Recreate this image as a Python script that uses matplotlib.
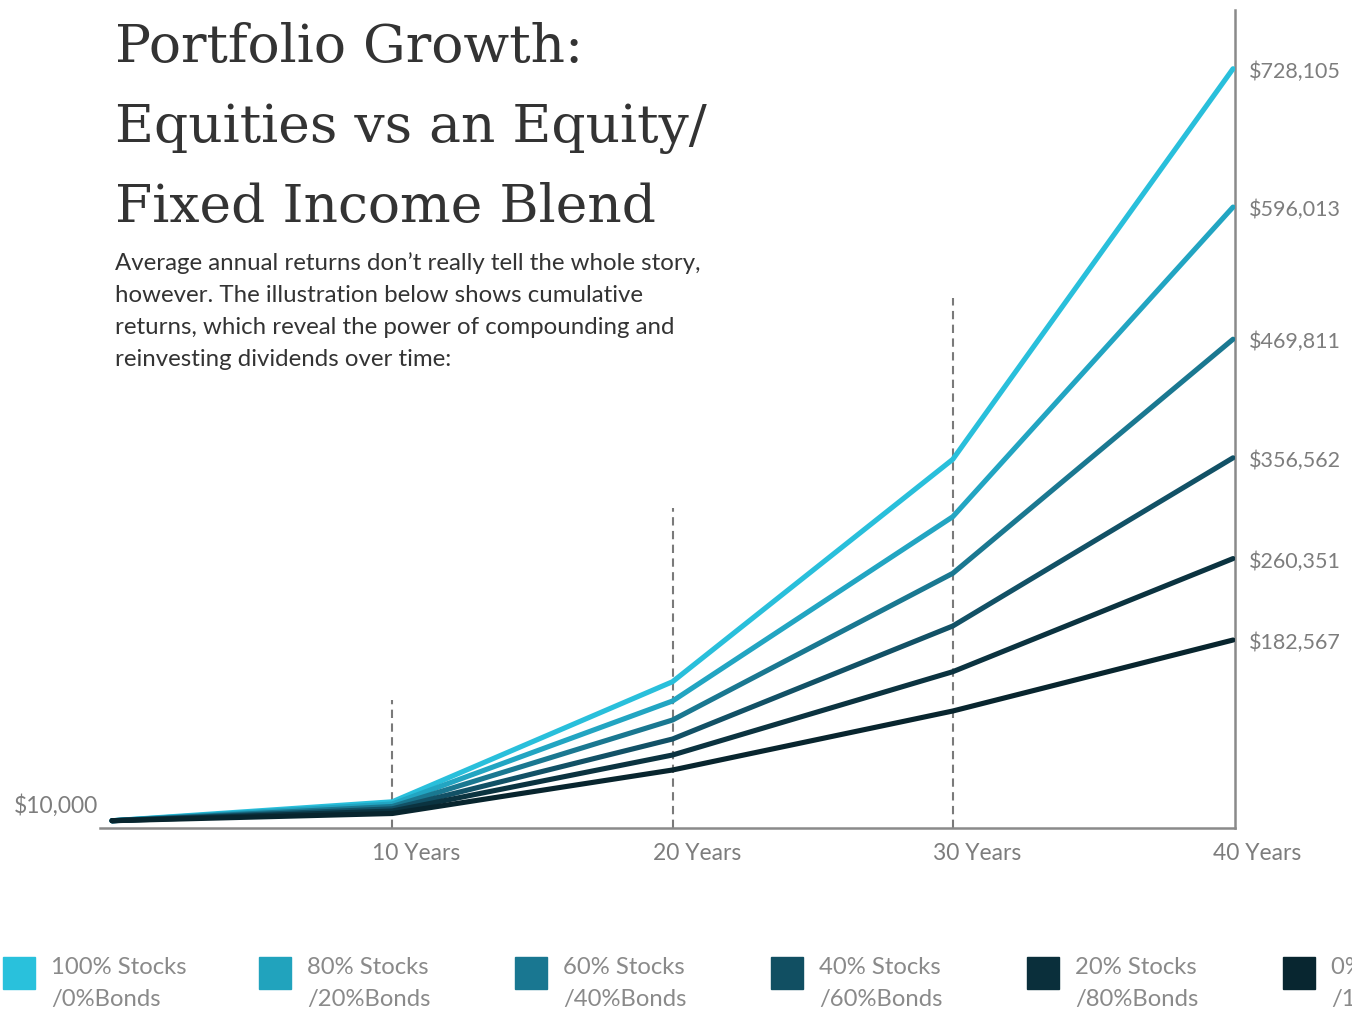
import matplotlib.pyplot as plt
from matplotlib.patches import Rectangle

# data
years = [0, 10, 20, 30, 40]
stocks_100 = [10000, 28075, 142760, 355130, 728105]
stocks_80 = [10000, 25970, 124330, 300320, 596013]
stocks_60 = [10000, 23590, 106190, 246270, 469811]
stocks_40 = [10000, 21390, 88050, 195950, 356562]
stocks_20 = [10000, 19290, 72760, 152310, 260351]
stocks_0 = [10000, 16900, 58440, 114780, 182567]

series = [stocks_100, stocks_80, stocks_60, stocks_40, stocks_20, stocks_0]
line_colors = ['#29bfdb', '#22a5c2', '#1a7891', '#125166', '#0b3340', '#08252e']
legend_colors = ['#29c1dc', '#21a3bd', '#197791', '#114f62', '#0a2f3b', '#082630']
legend_top = ['100% Stocks', '80% Stocks', '60% Stocks', '40% Stocks', '20% Stocks', '0% Stocks']
legend_bottom = ['/0%Bonds', '/20%Bonds', '/40%Bonds', '/60%Bonds', '/80%Bonds', '/100%Bonds']
end_labels = ['$728,105', '$596,013', '$469,811', '$356,562', '$260,351', '$182,567']
tick_years = [10, 20, 30, 40]
tick_labels = ['10 Years', '20 Years', '30 Years', '40 Years']
guide_years = [10, 20, 30]
guide_tops = [125300, 308600, 509200]

W, H = 1352, 1011
fig = plt.figure(figsize=(W / 100, H / 100), dpi=100)
ax = fig.add_axes([100 / W, (H - 828) / H, 1135 / W, 818 / H])
ax.set_xlim(-0.43, 40.07)
ax.set_ylim(3056, 784200)

for s in ['top', 'left']:
    ax.spines[s].set_visible(False)
for s in ['bottom', 'right']:
    ax.spines[s].set_color('#8a8a8a')
    ax.spines[s].set_linewidth(1.8)
ax.set_xticks([])
ax.set_yticks([])

# dashed guides
for x, top in zip(guide_years, guide_tops):
    ax.plot([x, x], [3056, top], color='#7a7a7a', lw=1.5,
            linestyle=(0, (4, 2.6)), zorder=1)

for vals, c in zip(series, line_colors):
    ax.plot(years, vals, color=c, lw=3.7, solid_capstyle='round', zorder=3)

grey = '#7d7d7d'
for vals, lab in zip(series, end_labels):
    ax.annotate(lab, xy=(years[-1], vals[-1]), xytext=(16, -3),
                textcoords='offset pixels', ha='left', va='center',
                fontsize=15.5, color=grey, family='Lato')

ax.annotate('$10,000', xy=(years[0], stocks_0[0]), xytext=(-14, 15),
            textcoords='offset pixels', ha='right', va='center',
            fontsize=16.5, color=grey, family='Lato')

for x, lab in zip(tick_years, tick_labels):
    ax.annotate(lab, xy=(x, 0), xycoords=('data', 'axes fraction'),
                xytext=(-20, -25), textcoords='offset pixels',
                ha='left', va='center', fontsize=16.5, color=grey, family='Lato')

# title and intro text
title_lines = ['Portfolio Growth:', 'Equities vs an Equity/', 'Fixed Income Blend']
for i, t in enumerate(title_lines):
    fig.text(115 / W, 1 - (62 + 80 * i) / H, t, family='DejaVu Serif',
             fontsize=38.5, color='#333333', va='baseline', ha='left')

intro = ['Average annual returns don\u2019t really tell the whole story,',
         'however. The illustration below shows cumulative',
         'returns, which reveal the power of compounding and',
         'reinvesting dividends over time:']
for i, t in enumerate(intro):
    fig.text(115 / W, 1 - (270 + 32 * i) / H, t, family='Lato',
             fontsize=17.3, color='#333333', va='baseline', ha='left')

# legend
for i in range(len(legend_top)):
    x0 = 3 + 256 * i
    fig.patches.append(Rectangle((x0 / W, 1 - 989 / H), 32 / W, 32 / H,
                                 transform=fig.transFigure,
                                 color=legend_colors[i]))
    fig.text((x0 + 48) / W, 1 - 974 / H, legend_top[i], family='Lato',
             fontsize=17.2, color='#8a8a8a', va='baseline')
    fig.text((x0 + 48) / W, 1 - 1006 / H, legend_bottom[i], family='Lato',
             fontsize=17.2, color='#8a8a8a', va='baseline')

fig.savefig('out.png', dpi=100)
